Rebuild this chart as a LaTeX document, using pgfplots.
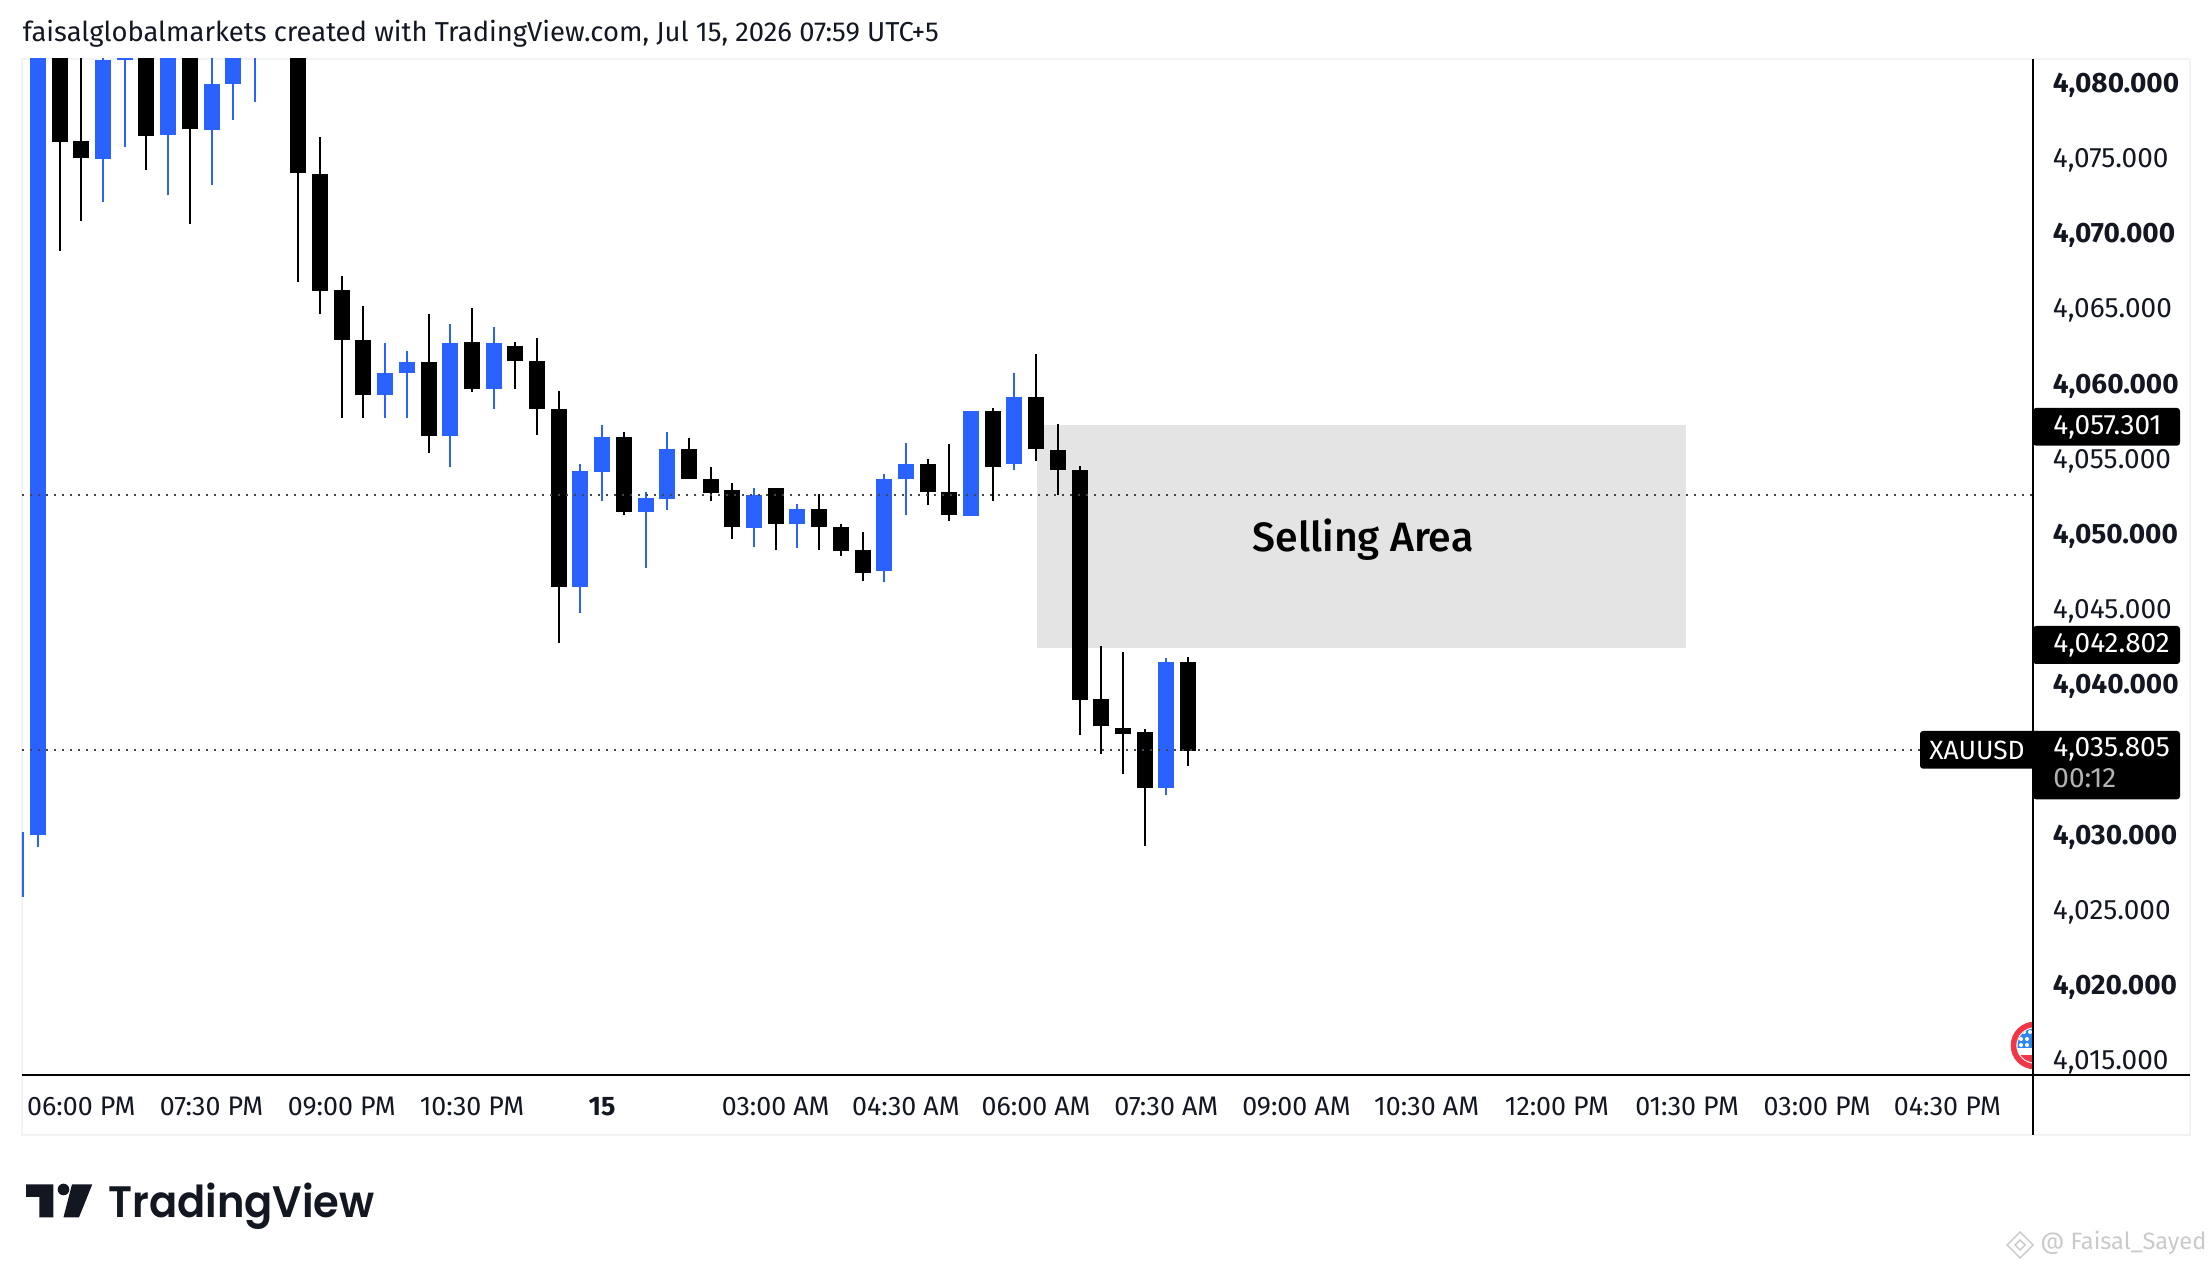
\documentclass[border=0pt]{standalone}
\usepackage{fontspec}
\setmainfont{Fira Sans}
\newfontfamily\tvfont{Poppins SemiBold}
\newfontfamily\medfont{Fira Sans Medium}
\usepackage{pgfplots}
\usepackage{pgfplotstable}
\pgfplotsset{compat=1.18}
\definecolor{tvblue}{HTML}{2962FF}
\definecolor{tvframe}{HTML}{F2F3F5}
\definecolor{tvbox}{HTML}{E4E4E4}
\definecolor{tvdot}{HTML}{434651}
\definecolor{tvink}{HTML}{131722}
\definecolor{flagred}{HTML}{F23645}
\definecolor{flagblue}{HTML}{2E86EE}
\definecolor{wmgray}{HTML}{CACACA}

\pgfplotstableread{
i top bot hi lo
1 4084.00 4076.20 4085.00 4069.01
2 4076.31 4075.14 4083.00 4070.99
5 4085.00 4076.60 4086.00 4074.34
7 4084.00 4077.06 4086.00 4070.74
12 4084.00 4074.14 4085.00 4066.89
13 4074.12 4066.35 4076.58 4064.76
14 4066.40 4063.09 4067.33 4057.90
15 4063.07 4059.37 4065.34 4057.90
18 4061.61 4056.64 4064.80 4055.51
20 4062.94 4059.83 4065.20 4059.63
22 4062.67 4061.63 4062.94 4059.77
23 4061.68 4058.50 4063.21 4056.71
24 4058.48 4046.66 4059.68 4042.93
27 4056.62 4051.65 4056.95 4051.45
30 4055.82 4053.78 4056.55 4053.78
31 4053.83 4052.91 4054.62 4052.32
32 4053.09 4050.59 4053.56 4049.79
34 4053.23 4050.79 4053.23 4049.12
36 4051.83 4050.59 4052.83 4049.06
37 4050.63 4048.99 4050.83 4048.66
38 4049.10 4047.59 4050.30 4047.06
41 4054.82 4052.98 4055.16 4052.05
42 4052.96 4051.45 4056.15 4051.05
44 4058.35 4054.64 4058.55 4052.38
46 4059.28 4055.79 4062.15 4055.04
47 4055.76 4054.44 4057.47 4052.75
48 4054.41 4039.08 4054.68 4036.80
49 4039.19 4037.41 4042.71 4035.54
50 4037.25 4036.87 4042.32 4034.22
51 4036.98 4033.29 4037.19 4029.43
53 4041.64 4035.75 4041.98 4034.69
}\blackcandles

\pgfplotstableread{
i top bot hi lo
-1 4030.34 4026.04 4030.34 4026.04
0 4084.00 4030.16 4085.00 4029.36
3 4081.70 4075.07 4083.00 4072.25
4 4084.00 4081.70 4085.00 4075.87
6 4085.00 4076.67 4086.00 4072.67
8 4080.11 4077.00 4083.00 4073.34
9 4083.00 4080.06 4084.00 4077.66
10 4085.00 4083.00 4086.00 4078.86
16 4060.88 4059.43 4062.87 4057.84
17 4061.61 4060.83 4062.34 4057.84
19 4062.87 4056.64 4064.14 4054.58
21 4062.87 4059.83 4063.94 4058.44
25 4054.36 4046.66 4054.82 4044.93
26 4056.62 4054.31 4057.42 4052.38
28 4052.56 4051.65 4052.96 4047.86
29 4055.82 4052.51 4056.95 4051.78
33 4052.76 4050.52 4053.23 4049.32
35 4051.83 4050.79 4052.16 4049.25
39 4053.83 4047.66 4054.16 4046.93
40 4054.82 4053.78 4056.22 4051.45
43 4058.35 4051.38 4058.35 4051.32
45 4059.28 4054.78 4060.88 4054.38
52 4041.64 4033.23 4041.91 4032.82
}\bluecandles

\newcommand{\candles}[2]{%
  \addplot[draw=none,forget plot,error bars/.cd,y dir=plus,y explicit,error mark=none,
    error bar style={line width=1pt,draw=#2}]
    table[x=i,y=lo,y error plus expr=\thisrow{hi}-\thisrow{lo}]{#1};
  \addplot[draw=none,forget plot,error bars/.cd,y dir=plus,y explicit,error mark=none,
    error bar style={line width=8pt,draw=#2}]
    table[x=i,y=bot,y error plus expr=\thisrow{top}-\thisrow{bot}]{#1};
}

\begin{document}
\begin{tikzpicture}
\path[use as bounding box] (0pt,0pt) rectangle (1106pt,634pt);
\fill[white] (0pt,0pt) rectangle (1106pt,634pt);
\begin{scope}[x=0.5pt,y=-0.5pt,shift={(0pt,634pt)}]
  \draw[tvframe,line width=1pt] (22,59) -- (22,1135) -- (2190,1135) -- (2190,59) -- cycle;
\end{scope}
\begin{axis}[
  at={(11pt,96.5pt)},anchor=south west,
  scale only axis,width=1005.5pt,height=508pt,
  xmin=-0.737,xmax=91.94,
  ymin=4014.17,ymax=4081.75,
  axis line style={draw=none},
  major tick length=0pt,
  tick style={draw=none},
  xtick={2,8,14,20,26,34,40,46,52,58,64,70,76,82,88},
  xticklabels={06:00 PM,07:30 PM,09:00 PM,10:30 PM,\bfseries 15,03:00 AM,04:30 AM,06:00 AM,07:30 AM,09:00 AM,10:30 AM,12:00 PM,01:30 PM,03:00 PM,04:30 PM},
  ytick={4015,4020,4025,4030,4035,4040,4045,4050,4055,4060,4065,4070,4075,4080},
  yticklabels={{4,015.000},{\bfseries 4,020.000},{4,025.000},{\bfseries 4,030.000},{},{\bfseries 4,040.000},{4,045.000},{\bfseries 4,050.000},{4,055.000},{\bfseries 4,060.000},{4,065.000},{\bfseries 4,070.000},{4,075.000},{\bfseries 4,080.000}},
  yticklabel pos=right,
  yticklabel style={anchor=west,inner sep=0pt,xshift=9.8pt,font=\fontsize{14}{16}\selectfont,text=tvink},
  xticklabel style={anchor=center,inner sep=0pt,yshift=-15.6pt,font=\fontsize{13.4}{15}\selectfont,text=tvink},
]
\addplot[fill=tvbox,draw=none,forget plot] coordinates {(46.04,4057.42) (75.94,4057.42) (75.94,4042.60) (46.04,4042.60)} -- cycle;
\candles{\blackcandles}{black}
\candles{\bluecandles}{tvblue}
\addplot[tvdot,line width=1pt,dash pattern=on 1pt off 3pt,forget plot] coordinates {(-0.737,4052.76) (91.94,4052.76)};
\addplot[tvdot,line width=1pt,dash pattern=on 1pt off 3pt,forget plot] coordinates {(-0.737,4035.805) (91.94,4035.805)};
\node[font=\medfont\fontsize{20.5}{24}\selectfont,text=black] at (axis cs:61.07,4049.8) {Selling Area};
\end{axis}
\begin{scope}[x=0.5pt,y=-0.5pt,shift={(0pt,634pt)}]
  % calendar flag
  \begin{scope}
    \clip (2000,1015) rectangle (2032.5,1075);
    \fill[white] (2034.5,1045.5) circle (23.8*0.5pt);
    \begin{scope}
      \clip (2034.5,1045.5) circle (17*0.5pt);
      \fill[flagblue] (2010,1025) rectangle (2040,1048);
      \fill[flagred] (2010,1055) rectangle (2040,1068);
      \foreach \sx/\sy in {2024/1032,2030/1032,2021/1039,2027/1039,2021/1045,2027/1045}
        \fill[white] (\sx,\sy) circle (1pt);
    \end{scope}
    \draw[flagred,line width=2.8pt] (2034.5,1045.5) circle (21*0.5pt);
  \end{scope}
  % spines
  \draw[black,line width=1pt] (22,1075) -- (2190,1075);
  \draw[black,line width=1pt] (2033,59) -- (2033,1135);
  % price tags
  \fill[black,rounded corners=1.5pt] (2033,408) rectangle (2180,445.7);
  \fill[black,rounded corners=1.5pt] (2033,626) rectangle (2180,664);
  \fill[black,rounded corners=1.5pt] (1920,731) rectangle (2040,768.7);
  \fill[black,rounded corners=1.5pt] (2033,731) rectangle (2180,799.3);
  \tikzset{tag/.style={inner sep=0pt,anchor=west,font=\fontsize{14}{16}\selectfont,text=white}}
  \node[tag] at (2053,427) {4,057.301};
  \node[tag] at (2053,645) {4,042.802};
  \node[tag] at (2053,749) {4,035.805};
  \node[tag,text=black!30!white] at (2053,778) {00:12};
  \node[tag,font=\fontsize{13.2}{15}\selectfont] at (1929,750) {XAUUSD};
  % header
  \node[inner sep=0pt,anchor=west,font=\fontsize{13.7}{15}\selectfont,text=tvink] at (22.6,34) {faisalglobalmarkets created with TradingView.com, Jul 15, 2026 07:59 UTC+5};
  % logo
  \fill[tvink] (26,1184.3) -- (53.3,1184.3) -- (53.3,1217.3) -- (39.3,1217.3) -- (39.3,1197) -- (26,1197) -- cycle;
  \fill[tvink] (63.5,1189.5) circle (2.9pt);
  \fill[tvink] (72,1184.3) -- (92.3,1184.3) -- (79,1217.3) -- (63.5,1217.3) -- cycle;
  \node[inner sep=0pt,anchor=west,font=\tvfont\fontsize{22}{26}\selectfont,text=tvink] at (108,1206) {\scalebox{0.945}[1]{TradingView}};
  % watermark
  \begin{scope}[wmgray,line width=0.7pt]
    \draw (2020,1232) -- (2033,1245) -- (2020,1258) -- (2007,1245) -- cycle;
    \draw (2020,1240) -- (2025,1245) -- (2020,1250) -- (2015,1245) -- cycle;
  \end{scope}
  \node[inner sep=0pt,anchor=west,font=\fontsize{11.8}{14}\selectfont,text=wmgray] at (2040,1243) {@ Faisal\_Sayed};
\end{scope}
\end{tikzpicture}
\end{document}
